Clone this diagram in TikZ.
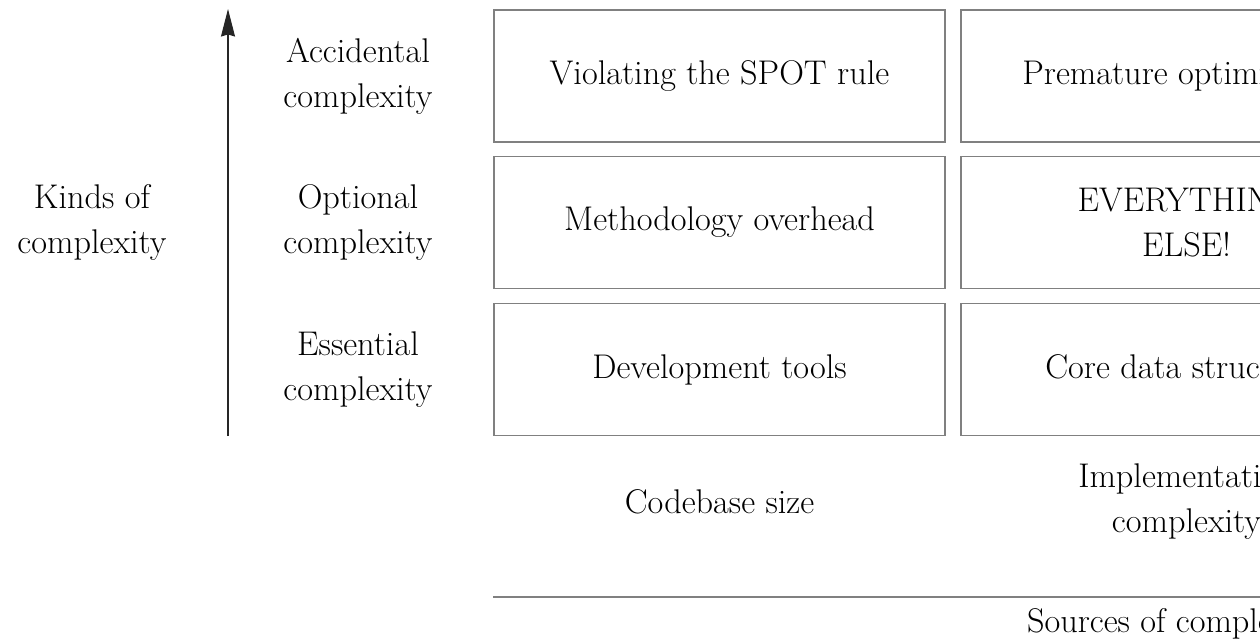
\documentclass[tikz,border=0pt]{standalone}
\usepackage{tikz}
\usetikzlibrary{arrows.meta}

\begin{document}
\begin{tikzpicture}[x=0.02cm, y=-0.02cm,
		every node/.style={font=\fontsize{19.5}{25.6}\selectfont, align=center},
		cell/.style={draw=black!50, line width=1.1pt, minimum width=9.02cm, minimum height=2.64cm}]
	\useasboundingbox (0, 0) rectangle (1260, 640);
	\clip (0, 0) rectangle (1260, 640);
	\node (Kinds)at(92, 222) {Kinds of\\complexity};
	\node (Acc)at(358, 76) {Accidental\\complexity};
	\node (Opt)at(358, 222.5) {Optional\\complexity};
	\node (Ess)at(358, 369.5) {Essential\\complexity};
	\node[cell] (AccSize)at(719.5, 76) {Violating the SPOT rule};
	\node[cell] (OptSize)at(719.5, 222.5) {Methodology overhead};
	\node[cell] (EssSize)at(719.5, 369.5) {Development tools\strut};
	\node[cell] (AccImpl)at(1186.5, 76) {Premature optimization};
	\node[cell] (OptImpl)at(1186.5, 222.5) {EVERYTHING\\ELSE!};
	\node[cell] (EssImpl)at(1186.5, 369.5) {Core data structures\strut};
	\node (Size)at(719.5, 502) {Codebase size};
	\node (Impl)at(1186.5, 502) {Implementation\\complexity};
	\node (Sources)at(1176, 624) {Sources of complexity};
	\coordinate (down)at(228, 436);
	\coordinate (up)at(228, 9);
	\coordinate (lineL)at(493, 597);
	\coordinate (lineR)at(1880, 597);
	\draw[->, >={Stealth[length=0.55cm, width=0.28cm, inset=0.04cm]}, black!85, line width=0.6pt] (down) -- (up);
	\draw[black!50, line width=1.1pt] (lineL) -- (lineR);
\end{tikzpicture}
\end{document}
